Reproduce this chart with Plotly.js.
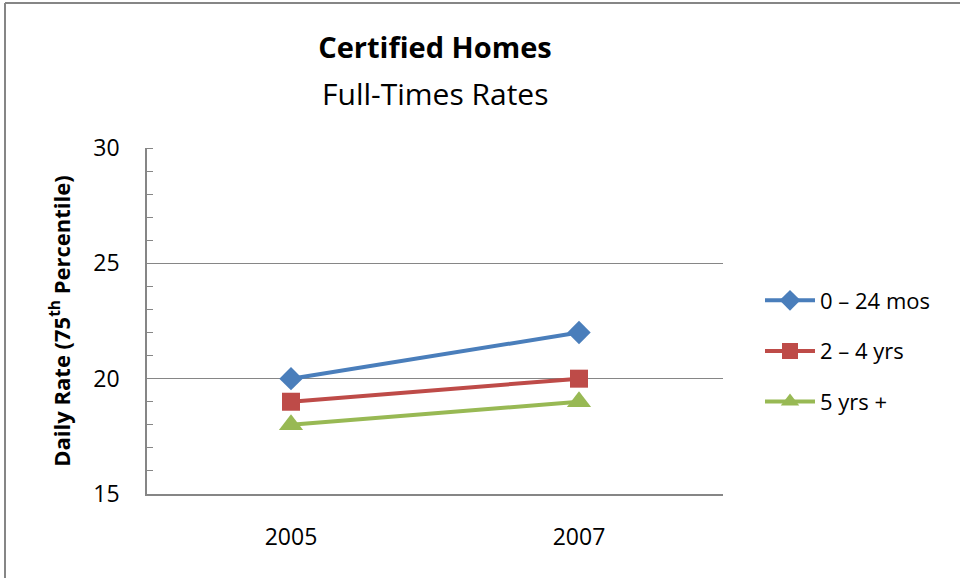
<!DOCTYPE html>
<html>
<head>
<meta charset="utf-8">
<script src="https://cdn.plot.ly/plotly-3.0.1.min.js"></script>
<style>
html,body{margin:0;padding:0;background:#fff;}
#chart{width:960px;height:578px;}
</style>
</head>
<body>
<div id="chart"></div>
<script>
const years = ["2005", "2007"];
const seriesNames = ["0 – 24 mos", "2 – 4 yrs", "5 yrs +"];
const rates0to24mos = [20, 22];
const rates2to4yrs = [19, 20];
const rates5yrsPlus = [18, 19];
const colors = ["#4a7ebb", "#be4b48", "#98b954"];
const symbols = ["diamond", "square", "triangle-up"];
const markerSizes = [18, 18, 21];
const yTicks = [15, 20, 25, 30];

const FONT = "'Open Sans', 'Noto Sans', sans-serif";
const allValues = [rates0to24mos, rates2to4yrs, rates5yrsPlus];

const traces = allValues.map((vals, i) => ({
  type: "scatter",
  mode: "lines+markers",
  x: years,
  y: vals,
  name: seriesNames[i],
  legendgroup: "g" + i,
  line: {color: colors[i], width: 4},
  marker: {symbol: symbols[i], color: colors[i], size: markerSizes[i], line: {width: 0}},
  hoverinfo: "x+y+name"
}));

const layout = {
  width: 960,
  height: 578,
  paper_bgcolor: "#ffffff",
  plot_bgcolor: "#ffffff",
  margin: {l: 147, r: 237, t: 148, b: 84, pad: 0},
  font: {family: FONT, color: "#000000"},
  title: {
    text: "<b>Certified Homes</b>",
    font: {family: FONT, size: 29, color: "#000"},
    x: 0.5, xref: "paper",
    y: 1 - 48 / 578, yref: "container", yanchor: "middle"
  },
  annotations: [{
    text: "Full-Times Rates",
    xref: "paper", yref: "paper",
    x: 0.5, y: (494 - 94) / 346,
    xanchor: "center", yanchor: "middle",
    showarrow: false,
    font: {family: FONT, size: 30, color: "#000"}
  }],
  xaxis: {
    type: "category",
    categoryorder: "array",
    categoryarray: years,
    range: [-0.5, 1.5],
    showline: true,
    linecolor: "#868686",
    linewidth: 1.5,
    showgrid: false,
    zeroline: false,
    ticks: "",
    ticklabelstandoff: 22,
    tickfont: {family: FONT, size: 23, color: "#000"},
    fixedrange: true
  },
  yaxis: {
    range: [15, 30],
    tickvals: yTicks,
    ticktext: yTicks.map(String),
    showline: true,
    linecolor: "#868686",
    linewidth: 1.5,
    showgrid: true,
    gridcolor: "#868686",
    gridwidth: 1,
    zeroline: false,
    ticks: "",
    ticklabelstandoff: 21,
    tickfont: {family: FONT, size: 23, color: "#000"},
    minor: {dtick: 1, ticks: "inside", ticklen: 6, tickcolor: "#868686", tickwidth: 1, showgrid: false},
    title: {
      text: "<b>Daily Rate (75<sup>th</sup> Percentile)</b>",
      font: {family: FONT, size: 22, color: "#000"},
      standoff: 17
    },
    automargin: false,
    fixedrange: true
  },
  showlegend: true,
  legend: {
    x: (760 - 147) / 576,
    xanchor: "left",
    y: (494 - 351) / 346,
    yanchor: "middle",
    traceorder: "grouped",
    tracegroupgap: 19,
    itemwidth: 50,
    font: {family: FONT, size: 22, color: "#000"},
    bgcolor: "rgba(0,0,0,0)"
  },
  shapes: [
    {type: "line", xref: "paper", yref: "paper",
     x0: (5 - 147) / 576, x1: (960 - 147) / 576,
     y0: (494 - 3) / 346, y1: (494 - 3) / 346,
     line: {color: "#868686", width: 2}},
    {type: "line", xref: "paper", yref: "paper",
     x0: (5 - 147) / 576, x1: (5 - 147) / 576,
     y0: (494 - 3) / 346, y1: (494 - 578) / 346,
     line: {color: "#868686", width: 2}}
  ],
  hovermode: "closest"
};

Plotly.newPlot("chart", traces, layout, {displayModeBar: false});
</script>
</body>
</html>
